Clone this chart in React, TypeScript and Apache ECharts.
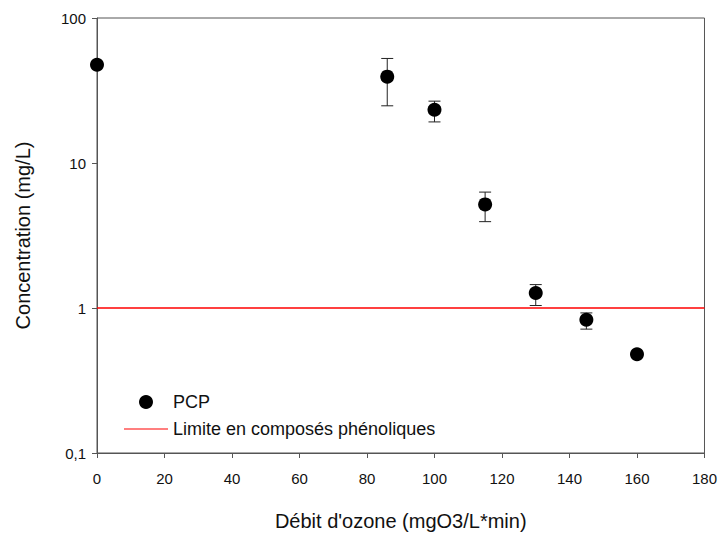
import React, { useEffect, useRef } from "react";
import * as echarts from "echarts";

const xValues = [0, 86, 100, 115, 130, 145, 160];
const pcpValues = [47.6, 39.4, 23.3, 5.18, 1.27, 0.83, 0.48];
const errHigh = [47.6, 52.6, 26.7, 6.3, 1.45, 0.925, 0.5];
const errLow = [47.6, 24.8, 19.2, 3.94, 1.04, 0.715, 0.46];
const limitX = [0, 180];
const limitY = [1, 1];
const yTickLabels: Record<string, string> = { "0.1": "0,1", "1": "1", "10": "10", "100": "100" };

export default function App() {
  const ref = useRef<HTMLDivElement>(null);
  useEffect(() => {
    if (!ref.current) return;
    const chart = echarts.init(ref.current, undefined, { renderer: "svg" });
    const font = "Liberation Sans, Arial, sans-serif";
    const axisColor = "#555";
    chart.setOption({
      animation: false,
      textStyle: { fontFamily: font },
      grid: {
        left: 97, right: 14, top: 18, bottom: 80,
        show: true, borderColor: axisColor, borderWidth: 1, backgroundColor: "transparent",
      },
      legend: {
        left: 119, top: 388, orient: "vertical", itemWidth: 44, itemHeight: 14, itemGap: 9,
        textStyle: { fontSize: 18, lineHeight: 18, color: "#111", fontFamily: font },
        data: [
          { name: "PCP", icon: "circle", itemStyle: { color: "#000", opacity: 1 } },
          { name: "Limite en composés phénoliques", icon: "path://M0,0 H44 V1 H0 Z", itemStyle: { color: "#ff0000" } },
        ],
      },
      xAxis: {
        type: "value", min: 0, max: 180, interval: 20,
        name: "Débit d'ozone (mgO3/L*min)", nameLocation: "middle", nameGap: 58,
        nameTextStyle: { fontSize: 20, color: "#111", fontFamily: font },
        axisLine: { lineStyle: { color: axisColor } },
        axisTick: { show: true, length: 5, lineStyle: { color: axisColor } },
        axisLabel: { fontSize: 15, color: "#111", margin: 18 },
        splitLine: { show: false },
      },
      yAxis: {
        type: "log", logBase: 10, min: 0.1, max: 100,
        name: "Concentration (mg/L)", nameLocation: "middle", nameGap: 64,
        nameTextStyle: { fontSize: 20, color: "#111", fontFamily: font },
        axisLine: { show: true, lineStyle: { color: axisColor } },
        axisTick: { show: true, length: 5, lineStyle: { color: axisColor } },
        axisLabel: {
          fontSize: 15, color: "#111", margin: 11,
          formatter: (v: number) => yTickLabels[String(v)] ?? String(v),
        },
        splitLine: { show: false },
      },
      series: [
        {
          name: "Limite en composés phénoliques",
          type: "line",
          data: limitX.map((x, i) => [x, limitY[i]]),
          symbol: "none",
          showSymbol: false,
          lineStyle: { color: "#ff0000", width: 1.5 },
          itemStyle: { color: "#ff0000" },
          z: 1,
        },
        {
          name: "errors",
          type: "custom",
          data: xValues.map((x, i) => [x, errLow[i], errHigh[i]]),
          renderItem: (params: any, api: any) => {
            const x = api.value(0);
            const lo = api.coord([x, api.value(1)]);
            const hi = api.coord([x, api.value(2)]);
            const cap = 6;
            const style = { stroke: "#222", lineWidth: 1 };
            return {
              type: "group",
              children: [
                { type: "line", shape: { x1: lo[0], y1: lo[1], x2: hi[0], y2: hi[1] }, style },
                { type: "line", shape: { x1: lo[0] - cap, y1: lo[1], x2: lo[0] + cap, y2: lo[1] }, style },
                { type: "line", shape: { x1: hi[0] - cap, y1: hi[1], x2: hi[0] + cap, y2: hi[1] }, style },
              ],
            };
          },
          clip: false,
          z: 2,
        },
        {
          name: "PCP",
          type: "scatter",
          data: xValues.map((x, i) => [x, pcpValues[i]]),
          symbol: "circle",
          symbolSize: 14,
          itemStyle: { color: "#000", opacity: 1 },
          clip: false,
          z: 3,
        },
      ],
    });
    return () => chart.dispose();
  }, []);
  return <div ref={ref} style={{ width: 720, height: 536, position: "absolute", left: 0, top: 0 }} />;
}
